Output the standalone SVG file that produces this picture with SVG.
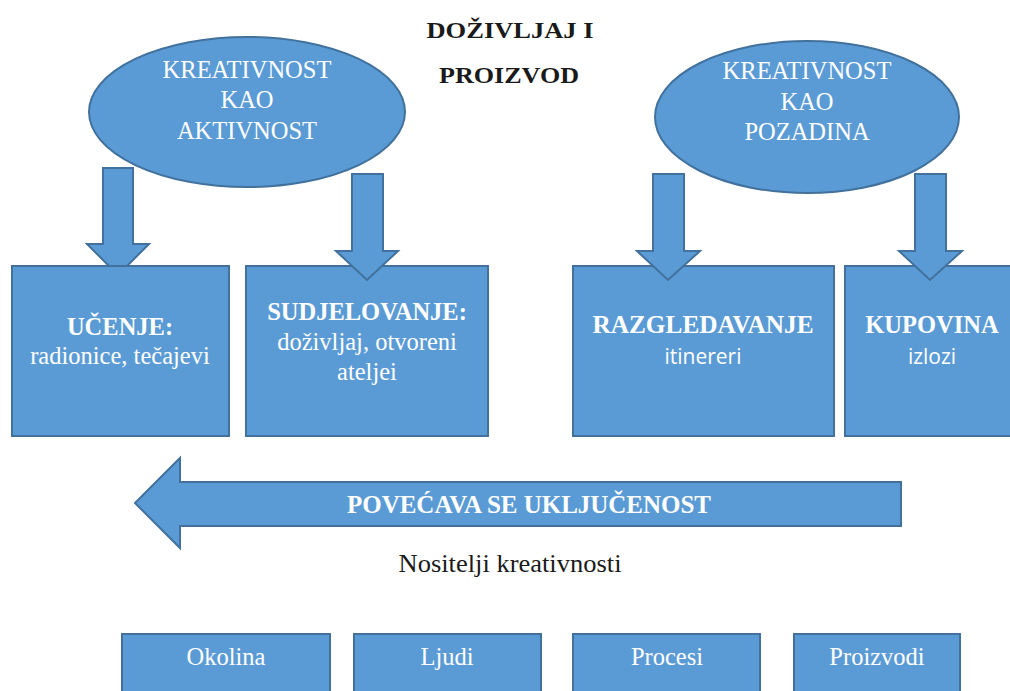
<svg xmlns="http://www.w3.org/2000/svg" width="1010" height="691" viewBox="0 0 1010 691">
  <style>
    .shape { fill: #5b9bd5; stroke: #41719c; stroke-width: 2; }
    .lbl { font-family: "Liberation Serif", "Times New Roman", serif; fill: #ffffff; text-anchor: middle; }
    .big { font-size: 24.5px; }
    .bold { font-weight: bold; }
    .sans { font-family: "Open Sans", "Liberation Sans", sans-serif; font-size: 21px; fill: #ffffff; text-anchor: middle; }
    .title { font-family: "Liberation Serif", "Times New Roman", serif; font-weight: bold; font-size: 24px; fill: #1a1a1a; text-anchor: middle; }
    .plain { font-family: "Liberation Serif", "Times New Roman", serif; font-size: 25px; fill: #1a1a1a; text-anchor: middle; }
  </style>
  <rect width="1010" height="691" fill="#ffffff"/>

  <!-- heading -->
  <g id="heading">
    <text class="title" x="510" y="38" textLength="167" lengthAdjust="spacingAndGlyphs">DOŽIVLJAJ I</text>
    <text class="title" x="509" y="83" textLength="140" lengthAdjust="spacingAndGlyphs">PROIZVOD</text>
  </g>

  <!-- arrow hidden partly under the first box -->
  <g id="connectors-back">
    <polygon class="shape" points="103,168 133,168 133,244 149,244 118,275 87,244 103,244"/>
  </g>

  <g id="ellipse-aktivnost">
    <ellipse class="shape" cx="247" cy="112" rx="158" ry="75"/>
    <text class="lbl big" x="247" y="78">KREATIVNOST</text>
    <text class="lbl big" x="247" y="108">KAO</text>
    <text class="lbl big" x="247" y="139">AKTIVNOST</text>
  </g>

  <g id="ellipse-pozadina">
    <ellipse class="shape" cx="807" cy="117" rx="152" ry="76"/>
    <text class="lbl big" x="807" y="79">KREATIVNOST</text>
    <text class="lbl big" x="807" y="110">KAO</text>
    <text class="lbl big" x="807" y="140">POZADINA</text>
  </g>

  <g id="box-ucenje">
    <rect class="shape" x="12" y="266" width="217" height="170"/>
    <text class="lbl big bold" x="120" y="335">UČENJE:</text>
    <text class="lbl big" x="120" y="364">radionice, tečajevi</text>
  </g>

  <g id="box-sudjelovanje">
    <rect class="shape" x="246" y="266" width="242" height="170"/>
    <text class="lbl big bold" x="367" y="320">SUDJELOVANJE:</text>
    <text class="lbl big" x="367" y="350">doživljaj, otvoreni</text>
    <text class="lbl big" x="367" y="380">ateljei</text>
  </g>

  <g id="box-razgledavanje">
    <rect class="shape" x="573" y="266" width="261" height="170"/>
    <text class="lbl big bold" x="703" y="333" textLength="221" lengthAdjust="spacingAndGlyphs">RAZGLEDAVANJE</text>
    <text class="sans" x="703" y="364">itinereri</text>
  </g>

  <g id="box-kupovina">
    <rect class="shape" x="845" y="266" width="175" height="170"/>
    <text class="lbl big bold" x="932" y="333">KUPOVINA</text>
    <text class="sans" x="932" y="364">izlozi</text>
  </g>

  <!-- arrows drawn over the boxes -->
  <g id="connectors">
    <polygon class="shape" points="352,174 383,174 383,251 398,251 367,280 336,251 352,251"/>
    <polygon class="shape" points="653,174 684,174 684,251 700,251 668,280 637,251 653,251"/>
    <polygon class="shape" points="915,174 946,174 946,251 962,251 930,280 899,251 915,251"/>
  </g>

  <g id="arrow-ukljucenost">
    <polygon class="shape" points="901,482 901,526 180,526 180,548 135,503 180,458 180,482"/>
    <text class="lbl big bold" x="529" y="513" textLength="364" lengthAdjust="spacingAndGlyphs">POVEĆAVA SE UKLJUČENOST</text>
  </g>

  <g id="caption">
    <text class="plain" x="510" y="572" textLength="223" lengthAdjust="spacingAndGlyphs">Nositelji kreativnosti</text>
  </g>

  <g id="box-okolina">
    <rect class="shape" x="122" y="634" width="208" height="70"/>
    <text class="lbl" x="226" y="665" font-size="24.5">Okolina</text>
  </g>
  <g id="box-ljudi">
    <rect class="shape" x="354" y="634" width="187" height="70"/>
    <text class="lbl" x="447" y="665" font-size="24.5">Ljudi</text>
  </g>
  <g id="box-procesi">
    <rect class="shape" x="573" y="634" width="187" height="70"/>
    <text class="lbl" x="667" y="665" font-size="24.5">Procesi</text>
  </g>
  <g id="box-proizvodi">
    <rect class="shape" x="794" y="634" width="166" height="70"/>
    <text class="lbl" x="877" y="665" font-size="24.5">Proizvodi</text>
  </g>
</svg>
